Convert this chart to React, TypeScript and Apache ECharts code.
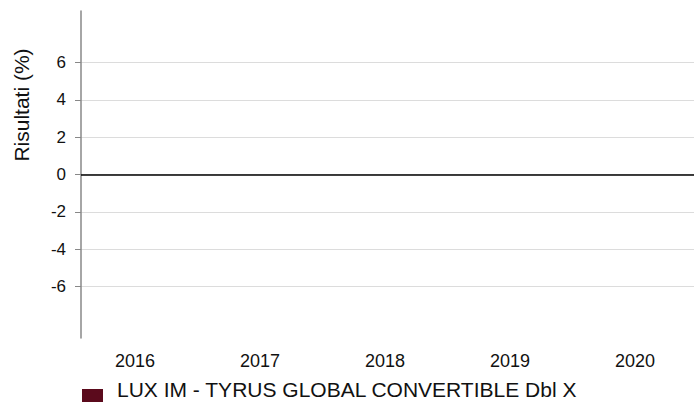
import React, { useEffect, useRef } from "react";
import * as echarts from "echarts";

const years = [2016, 2017, 2018, 2019, 2020];
const returns: (number | null)[] = [null, null, null, null, null];
const yTicks = [-6, -4, -2, 0, 2, 4, 6];
const seriesName = "LUX IM - TYRUS GLOBAL CONVERTIBLE Dbl X";
const yTitle = "Risultati (%)";

const FONT = "'Liberation Sans', Arial, Helvetica, sans-serif";

export default function App() {
  const ref = useRef<HTMLDivElement>(null);
  useEffect(() => {
    document.body.style.margin = "0";
    if (!ref.current) return;
    const chart = echarts.init(ref.current, undefined, { renderer: "svg" });
    chart.setOption({
      animation: false,
      textStyle: { fontFamily: FONT },
      grid: { left: 81, right: 0, top: 11, bottom: 65, containLabel: false },
      xAxis: {
        type: "value",
        min: 2015.568,
        max: 2020.472,
        axisLine: { show: false },
        axisTick: { show: false },
        splitLine: { show: false },
        axisLabel: {
          customValues: years,
          formatter: (v: number) => String(v),
          fontSize: 18,
          color: "#111",
          margin: 14,
          fontFamily: FONT,
        },
      },
      yAxis: {
        type: "value",
        min: -8.75,
        max: 8.75,
        axisLine: { show: true, lineStyle: { color: "#888", width: 1.5 } },
        axisTick: {
          show: true,
          customValues: yTicks,
          length: 6,
          lineStyle: { color: "#888", width: 1 },
        },
        axisLabel: {
          customValues: yTicks,
          fontSize: 17,
          color: "#111",
          margin: 15,
          fontFamily: FONT,
        },
        splitLine: { show: true, lineStyle: { color: "#dcdcdc", width: 1 } },
      },
      legend: {
        left: 77,
        top: 371,
        itemWidth: 21,
        itemHeight: 26,
        icon: "path://M0,0 M0,13 L21,13 L21,26 L0,26 Z",
        textStyle: {
          fontSize: 21,
          lineHeight: 21,
          color: "#111",
          fontFamily: FONT,
          padding: [0, 0, 0, 9],
        },
        data: [seriesName],
      },
      graphic: [
        {
          type: "text",
          x: 21,
          y: 105,
          rotation: Math.PI / 2,
          style: {
            text: yTitle,
            font: `21px ${FONT}`,
            fill: "#111",
            align: "center",
            verticalAlign: "middle",
          },
        },
      ],
      series: [
        {
          name: seriesName,
          type: "bar",
          itemStyle: { color: "#5b0a1c" },
          data: years.map((y, i) => [y, returns[i]]),
          markLine: {
            silent: true,
            symbol: "none",
            label: { show: false },
            lineStyle: { color: "#000", width: 1.5, type: "solid" },
            data: [{ yAxis: 0 }],
          },
        },
      ],
    });
    return () => chart.dispose();
  }, []);
  return <div ref={ref} style={{ width: 694, height: 403 }} />;
}
